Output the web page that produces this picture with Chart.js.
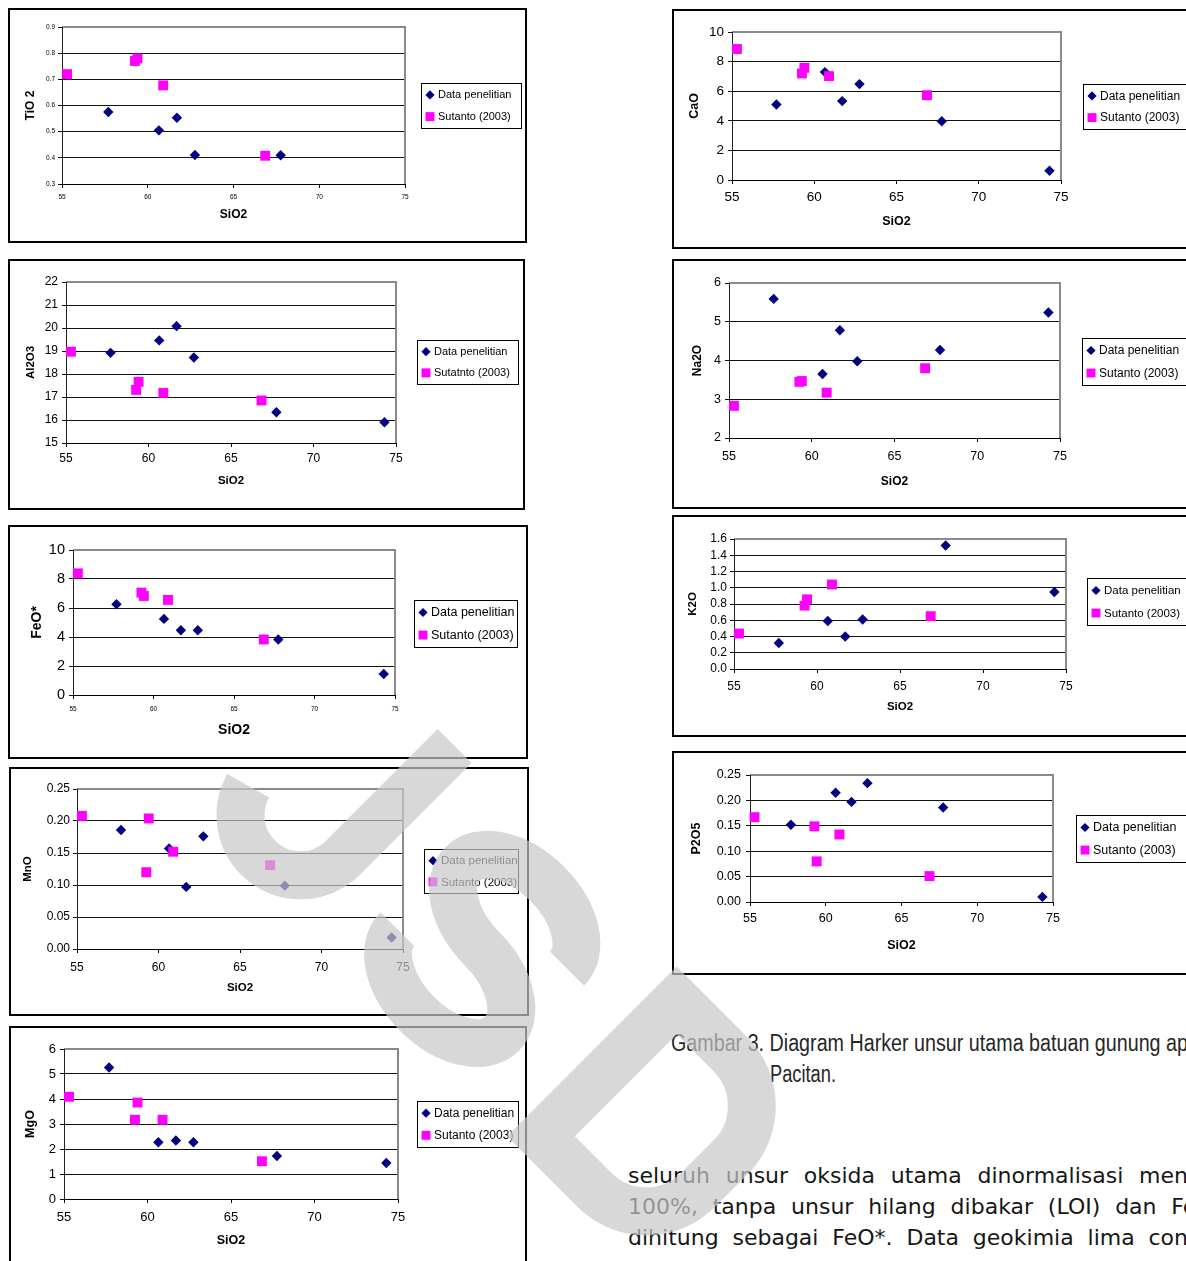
<!DOCTYPE html>
<html>
<head>
<meta charset="utf-8">
<script src="https://cdn.jsdelivr.net/npm/chart.js@4.4.0/dist/chart.umd.min.js"></script>
<style>
  html, body { margin: 0; padding: 0; background: #fff; }
  body { width: 1186px; height: 1261px; overflow: hidden; position: relative; }
  .frame { position: absolute; border: 2px solid #000; box-sizing: border-box; pointer-events: none; }
  .chartbox { position: absolute; }
  .caption { position: absolute; font-family: "Liberation Sans", Arial, sans-serif; font-size: 23px; color: #262626; white-space: nowrap; transform-origin: 0 0; line-height: 1; }
  .para { position: absolute; left: 628px; font-family: "DejaVu Sans", sans-serif; font-size: 22px; color: #161616; white-space: nowrap; line-height: 1; }
  #wm { position: absolute; left: 0; top: 0; pointer-events: none; }
</style>
</head>
<body>
<div class="caption" id="cap1" style="left:671px; top:1032px;">Gambar 3. Diagram Harker unsur utama batuan gunung api</div>
<div class="caption" id="cap2" style="left:770px; top:1063px;">Pacitan.</div>
<div class="para" id="p1" style="top:1165px;">seluruh unsur oksida utama dinormalisasi menjadi</div>
<div class="para" id="p2" style="top:1196px;">100%, tanpa unsur hilang dibakar (LOI) dan Fe total</div>
<div class="para" id="p3" style="top:1227px;">dihitung sebagai FeO*. Data geokimia lima contoh</div>
<canvas id="wm" width="1186" height="1261"></canvas>
<script>
// ---- Harker diagram data (wt.% oxides) ----
const seriesNames = ['Data penelitian', 'Sutanto (2003)'];
const xTickLabels = ['55', '60', '65', '70', '75'];

// SiO2 of the samples
const sio2Penelitian = [57.7, 60.65, 61.7, 62.75, 67.75, 74.3];
const sio2Sutanto    = [55.3, 59.25, 59.4, 60.9, 66.85];

// TiO2
const tio2Penelitian = [0.575, 0.505, 0.553, 0.411, 0.41, null];
const tio2Sutanto    = [0.72, 0.77, 0.78, 0.677, 0.408];
const tio2Ticks      = ['0.3', '0.4', '0.5', '0.6', '0.7', '0.8', '0.9'];

// Al2O3
const al2o3Penelitian = [18.92, 19.46, 20.08, 18.72, 16.34, 15.9];
const al2o3Sutanto    = [18.97, 17.31, 17.66, 17.18, 16.85];
const al2o3Ticks      = ['15', '16', '17', '18', '19', '20', '21', '22'];

// FeO*
const feoPenelitian = [6.26, 5.25, 4.47, 4.47, 3.83, 1.45];
const feoSutanto    = [8.39, 7.06, 6.83, 6.56, 3.83];
const feoTicks      = ['0', '2', '4', '6', '8', '10'];

// MnO
const mnoPenelitian = [0.186, 0.157, 0.097, 0.176, 0.099, 0.018];
const mnoSutanto    = [0.208, 0.12, 0.204, 0.152, 0.131];
const mnoTicks      = ['0.00', '0.05', '0.10', '0.15', '0.20', '0.25'];

// MgO
const mgoPenelitian = [5.26, 2.27, 2.34, 2.27, 1.72, 1.44];
const mgoSutanto    = [4.09, 3.17, 3.86, 3.17, 1.51];
const mgoTicks      = ['0', '1', '2', '3', '4', '5', '6'];

// CaO
const caoPenelitian = [5.1, 7.29, 5.33, 6.48, 3.97, 0.63];
const caoSutanto    = [8.85, 7.2, 7.58, 7.02, 5.73];
const caoTicks      = ['0', '2', '4', '6', '8', '10'];

// Na2O
const na2oPenelitian = [5.59, 3.65, 4.78, 3.98, 4.27, 5.24];
const na2oSutanto    = [2.83, 3.45, 3.47, 3.17, 3.8];
const na2oTicks      = ['2', '3', '4', '5', '6'];

// K2O
const k2oPenelitian = [0.32, 0.59, 0.4, 0.61, 1.52, 0.947];
const k2oSutanto    = [0.437, 0.78, 0.857, 1.04, 0.65];
const k2oTicks      = ['0.0', '0.2', '0.4', '0.6', '0.8', '1.0', '1.2', '1.4', '1.6'];

// P2O5
const p2o5Penelitian = [0.152, 0.215, 0.197, 0.234, 0.186, 0.01];
const p2o5Sutanto    = [0.167, 0.149, 0.08, 0.133, 0.051];
const p2o5Ticks      = ['0.00', '0.05', '0.10', '0.15', '0.20', '0.25'];

// ---- page layout of the nine diagrams ----
// box: outer frame [x, y, w, h]; area: plot area [left, top, right, bottom];
// legend: [x, y, w, h]; all in page pixels
const panels = [
  { title: 'TiO 2', pen: tio2Penelitian, sut: tio2Sutanto, ticks: tio2Ticks, sutName: 'Sutanto (2003)',
    box: [8, 8, 519, 235], area: [62, 27, 405, 184], legend: [421, 83, 101, 46],
    yTick: 6.5, xTick: 6.5, yTitle: 12, xTitle: 12, legendFont: 11, yTitleX: 31, xTitleY: 215, xPad: 5, yPad: 3 },
  { title: 'Al2O3', pen: al2o3Penelitian, sut: al2o3Sutanto, ticks: al2o3Ticks, sutName: 'Sutatnto (2003)',
    box: [8, 259, 517, 251], area: [66, 282, 396, 443], legend: [417, 340, 102, 45],
    yTick: 12, xTick: 12, yTitle: 11.5, xTitle: 11.5, legendFont: 11, yTitleX: 31, xTitleY: 481, xPad: 4, yPad: 4 },
  { title: 'FeO*', pen: feoPenelitian, sut: feoSutanto, ticks: feoTicks, sutName: 'Sutanto (2003)',
    box: [8, 525, 520, 234], area: [73, 550, 395, 695], legend: [414, 600, 104, 48],
    yTick: 14.5, xTick: 6.5, yTitle: 14, xTitle: 14, legendFont: 12.5, yTitleX: 37, xTitleY: 730, xPad: 6, yPad: 4 },
  { title: 'MnO', pen: mnoPenelitian, sut: mnoSutanto, ticks: mnoTicks, sutName: 'Sutanto (2003)',
    box: [9, 767, 520, 249], area: [77, 789, 403, 949], legend: [424, 849, 95, 45],
    yTick: 12, xTick: 12, yTitle: 11.5, xTitle: 11.5, legendFont: 11.5, yTitleX: 28, xTitleY: 988, xPad: 7, yPad: 3 },
  { title: 'MgO', pen: mgoPenelitian, sut: mgoSutanto, ticks: mgoTicks, sutName: 'Sutanto (2003)',
    box: [9, 1026, 518, 250], area: [64, 1049, 398, 1199], legend: [417, 1101, 102, 47],
    yTick: 13, xTick: 13, yTitle: 12.5, xTitle: 12.5, legendFont: 12, yTitleX: 31, xTitleY: 1241, xPad: 7, yPad: 4 },
  { title: 'CaO', pen: caoPenelitian, sut: caoSutanto, ticks: caoTicks, sutName: 'Sutanto (2003)',
    box: [672, 9, 530, 240], area: [732, 32, 1061, 180], legend: [1083, 84, 108, 46],
    yTick: 13.5, xTick: 13.5, yTitle: 12.5, xTitle: 12.5, legendFont: 12, yTitleX: 695, xTitleY: 222, xPad: 5, yPad: 4 },
  { title: 'Na2O', pen: na2oPenelitian, sut: na2oSutanto, ticks: na2oTicks, sutName: 'Sutanto (2003)',
    box: [672, 259, 530, 250], area: [729, 283, 1060, 438], legend: [1082, 338, 108, 48],
    yTick: 12.5, xTick: 12.5, yTitle: 12, xTitle: 12, legendFont: 12, yTitleX: 698, xTitleY: 482, xPad: 7, yPad: 4 },
  { title: 'K2O', pen: k2oPenelitian, sut: k2oSutanto, ticks: k2oTicks, sutName: 'Sutanto (2003)',
    box: [672, 515, 530, 222], area: [734, 539, 1066, 669], legend: [1087, 578, 108, 48],
    yTick: 12, xTick: 12, yTitle: 11.5, xTitle: 11.5, legendFont: 11.5, yTitleX: 693, xTitleY: 707, xPad: 6, yPad: 3 },
  { title: 'P2O5', pen: p2o5Penelitian, sut: p2o5Sutanto, ticks: p2o5Ticks, sutName: 'Sutanto (2003)',
    box: [672, 751, 530, 224], area: [750, 775, 1053, 902], legend: [1076, 815, 112, 48],
    yTick: 12.5, xTick: 12.5, yTitle: 12.5, xTitle: 12.5, legendFont: 12.5, yTitleX: 697, xTitleY: 946, xPad: 5, yPad: 5 }
];

const FONT = '"Liberation Sans", Arial, Helvetica, sans-serif';
Chart.defaults.font.family = FONT;
Chart.defaults.color = '#000';

// gray plot-area outline drawn over the top grid line, beneath the markers
const plotFrame = {
  id: 'plotFrame',
  beforeDatasetsDraw(chart) {
    const { ctx, chartArea: a } = chart;
    ctx.save();
    ctx.strokeStyle = '#8a8a8a';
    ctx.lineWidth = 2;
    ctx.beginPath();
    ctx.moveTo(a.left, a.top);
    ctx.lineTo(a.right, a.top);
    ctx.lineTo(a.right, a.bottom);
    ctx.stroke();
    ctx.strokeStyle = '#222';
    ctx.lineWidth = 1;
    ctx.beginPath();
    ctx.moveTo(Math.round(a.left) + 0.5, a.top);
    ctx.lineTo(Math.round(a.left) + 0.5, a.bottom);
    ctx.stroke();
    ctx.restore();
  }
};

// boxed legend to the right of the plot area
const boxLegend = {
  id: 'boxLegend',
  afterDraw(chart, args, opts) {
    const { ctx } = chart;
    const [lx, ly, lw, lh] = opts.box;
    ctx.save();
    ctx.fillStyle = '#fff';
    ctx.fillRect(lx, ly, lw, lh);
    ctx.strokeStyle = '#000';
    ctx.lineWidth = 1;
    ctx.strokeRect(lx + 0.5, ly + 0.5, lw - 1, lh - 1);
    ctx.font = opts.fontSize + 'px ' + FONT;
    ctx.textBaseline = 'middle';
    ctx.textAlign = 'left';
    chart.data.datasets.forEach((ds, i) => {
      const cy = ly + lh * (i === 0 ? 0.26 : 0.73);
      ctx.fillStyle = ds.backgroundColor;
      Chart.helpers.drawPoint(ctx, { pointStyle: ds.pointStyle, radius: i === 0 ? 4.6 : 6.3, borderWidth: 0, rotation: 0 }, lx + 9, cy);
      ctx.fillStyle = '#000';
      ctx.fillText(ds.label, lx + 17, cy + 0.5);
    });
    ctx.restore();
  }
};

function buildDiagram(p) {
  const [bx, by, bw, bh] = p.box;
  const [al, at, ar, ab] = p.area;
  const canvas = document.createElement('canvas');
  canvas.width = bw;
  canvas.height = bh;
  canvas.className = 'chartbox';
  canvas.style.left = bx + 'px';
  canvas.style.top = by + 'px';
  canvas.style.width = bw + 'px';
  canvas.style.height = bh + 'px';
  document.body.insertBefore(canvas, document.getElementById('wm'));

  const frame = document.createElement('div');
  frame.className = 'frame';
  frame.style.cssText = `left:${bx}px;top:${by}px;width:${bw}px;height:${bh}px;`;
  document.body.insertBefore(frame, document.getElementById('wm'));

  const yMin = parseFloat(p.ticks[0]);
  const yMax = parseFloat(p.ticks[p.ticks.length - 1]);
  const yStep = parseFloat(p.ticks[1]) - yMin;
  const decimals = (p.ticks[0].split('.')[1] || '').length;
  const yTitleLH = p.yTitle * 1.2;
  const xTitleLH = p.xTitle * 1.2;

  new Chart(canvas, {
    type: 'scatter',
    data: {
      datasets: [
        {
          label: seriesNames[0],
          data: sio2Penelitian.map((x, i) => ({ x, y: p.pen[i] })).filter(d => d.y !== null),
          pointStyle: 'rectRot', pointRadius: 5.2, backgroundColor: '#000080', borderWidth: 0, order: 1, clip: false
        },
        {
          label: p.sutName,
          data: sio2Sutanto.map((x, i) => ({ x, y: p.sut[i] })),
          pointStyle: 'rect', pointRadius: 7, backgroundColor: '#ff00ff', borderWidth: 0, order: 0, clip: false
        }
      ]
    },
    options: {
      responsive: false,
      animation: false,
      devicePixelRatio: 1,
      events: [],
      layout: { autoPadding: false, padding: { left: 0, top: at - by, right: bx + bw - ar, bottom: 0 } },
      plugins: {
        legend: { display: false },
        tooltip: { enabled: false },
        boxLegend: { box: [p.legend[0] - bx, p.legend[1] - by, p.legend[2], p.legend[3]], fontSize: p.legendFont }
      },
      scales: {
        x: {
          type: 'linear',
          min: parseFloat(xTickLabels[0]),
          max: parseFloat(xTickLabels[xTickLabels.length - 1]),
          ticks: {
            stepSize: parseFloat(xTickLabels[1]) - parseFloat(xTickLabels[0]),
            font: { size: p.xTick }, color: '#000', padding: p.xPad, maxRotation: 0, autoSkip: false,
            callback: (v, i) => xTickLabels[i]
          },
          grid: { display: true, drawOnChartArea: false, drawTicks: true, tickLength: 4, color: '#000', lineWidth: 1 },
          border: { display: true, color: '#000', width: 1 },
          title: {
            display: true, text: 'SiO2', color: '#000',
            font: { size: p.xTitle, weight: 'bold' },
            padding: { top: 0, bottom: (by + bh - p.xTitleY) - xTitleLH / 2 }
          },
          afterFit: (s) => { s.height = by + bh - ab; }
        },
        y: {
          type: 'linear',
          min: yMin, max: yMax,
          ticks: {
            stepSize: yStep, font: { size: p.yTick }, color: '#000', padding: p.yPad, autoSkip: false,
            callback: (v) => Number(v).toFixed(decimals)
          },
          grid: { display: true, drawOnChartArea: true, drawTicks: true, tickLength: 4, color: '#111', lineWidth: 1 },
          border: { display: true, color: '#222', width: 1 },
          title: {
            display: true, text: p.title, color: '#000',
            font: { size: p.yTitle, weight: 'bold' },
            padding: { top: (p.yTitleX - bx) - yTitleLH / 2, bottom: 0 }
          },
          afterFit: (s) => { s.width = al - bx; }
        }
      }
    },
    plugins: [plotFrame, boxLegend]
  });
}

panels.forEach(buildDiagram);

function measure(el, text) {
  const c = document.createElement('canvas').getContext('2d');
  const cs = getComputedStyle(el);
  c.font = cs.fontSize + ' ' + cs.fontFamily;
  return c.measureText(text).width;
}

// condensed caption: squeeze the line so the visible run fits its width
function squeeze(el, visible, width) {
  el.style.transform = 'scaleX(' + (width / measure(el, visible)).toFixed(4) + ')';
}
squeeze(document.getElementById('cap1'), 'Gambar 3. Diagram Harker unsur utama batuan gunung ap', 517);
squeeze(document.getElementById('cap2'), 'Pacitan.', 66);

// justified paragraph lines: widen the word gaps so each run reaches the edge
function justify(el, visible, width) {
  const gaps = visible.split(' ').length - 1;
  el.style.wordSpacing = ((width - measure(el, visible)) / gaps).toFixed(3) + 'px';
}
justify(document.getElementById('p1'), 'seluruh unsur oksida utama dinormalisasi men', 560);
justify(document.getElementById('p2'), '100%, tanpa unsur hilang dibakar (LOI) dan F', 556);
justify(document.getElementById('p3'), 'dihitung sebagai FeO*. Data geokimia lima con', 560);

// translucent "USD" watermark, letters set along a 45 degree line
(function watermark() {
  const off = document.createElement('canvas');
  off.width = 1186; off.height = 1261;
  const g = off.getContext('2d');
  g.strokeStyle = 'rgb(200,200,200)';
  g.lineWidth = 48;
  g.lineCap = 'butt';
  g.lineJoin = 'miter';
  g.rotate(Math.PI / 4);
  // U (short left arm)
  g.beginPath();
  g.moveTo(849, 206);
  g.lineTo(849, 364);
  g.arc(789, 364, 60, 0, 2.87, false);
  g.stroke();
  // S
  g.beginPath();
  g.ellipse(1012, 284, 74, 46, 0, 0, Math.PI / 2, true);
  g.ellipse(1012, 376, 74, 46, 0, -Math.PI / 2, Math.PI, false);
  g.stroke();
  // D
  g.beginPath();
  g.moveTo(1186, 205);
  g.lineTo(1186, 445);
  g.moveTo(1162, 229);
  g.lineTo(1262, 229);
  g.arcTo(1335, 229, 1335, 302, 73);
  g.lineTo(1335, 348);
  g.arcTo(1335, 421, 1262, 421, 73);
  g.lineTo(1162, 421);
  g.stroke();
  const ctx = document.getElementById('wm').getContext('2d');
  ctx.globalAlpha = 0.7;
  ctx.drawImage(off, 0, 0);
})();
</script>
</body>
</html>
